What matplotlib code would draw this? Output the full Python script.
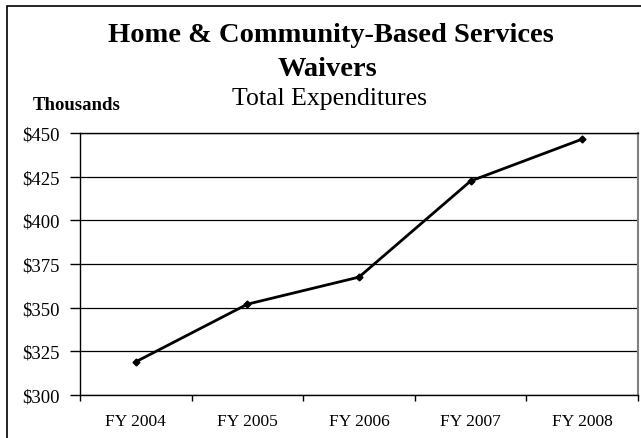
import numpy as np
import matplotlib
matplotlib.use("Agg")
import matplotlib.pyplot as plt
from matplotlib.patches import Rectangle

years = ["FY 2004", "FY 2005", "FY 2006", "FY 2007", "FY 2008"]
spending = [319, 352, 367.5, 422.5, 446.5]   # thousands of dollars
y_ticks = [300, 325, 350, 375, 400, 425, 450]

plt.rcParams['font.family'] = ['Liberation Serif', 'DejaVu Serif']

fig = plt.figure(figsize=(6.41, 4.39), dpi=100)
ax = fig.add_axes([80 / 641, 43 / 439, 558 / 641, 262 / 439])

x = np.arange(len(years))
ax.plot(x, spending, color='black', lw=2, marker='D', ms=3.5, zorder=3)

ax.set_xlim(-0.5, len(years) - 0.5)
ax.set_ylim(y_ticks[0], y_ticks[-1])
ax.set_yticks(y_ticks)
ax.set_yticklabels(["${}".format(v) for v in y_ticks], fontsize=13.5)
ax.set_xticks(x)
ax.set_xticklabels(years, fontsize=12.5)
ax.set_xticks(np.arange(-0.5, len(years)), minor=True)
ax.tick_params(axis='x', which='major', length=0, pad=13)
ax.tick_params(axis='x', which='minor', length=4, direction='out', width=1)
ax.tick_params(axis='y', length=7.5, direction='out', width=1, pad=7)

ax.grid(axis='y', color='black', lw=0.9)
ax.set_axisbelow(True)
for side in ['left', 'bottom', 'top']:
    ax.spines[side].set_color('black')
    ax.spines[side].set_linewidth(1)
ax.spines['right'].set_color('#808080')
ax.spines['right'].set_linewidth(1.5)

# outer chart frame
fig.patches.append(Rectangle((7 / 641, -0.2), 1.2, 1.2 - 7 / 439,
                             transform=fig.transFigure, fill=False,
                             edgecolor='black', lw=1.2))

fig.text(331 / 641, 1 - 35 / 439, "Home & Community-Based Services",
         ha='center', va='center', fontsize=20.5, fontweight='bold')
fig.text(327 / 641, 1 - 70 / 439, "Waivers",
         ha='center', va='center', fontsize=20.5, fontweight='bold')
fig.text(330 / 641, 1 - 99 / 439, "Total Expenditures",
         ha='center', va='center', fontsize=18.5)
fig.text(33 / 641, 1 - 105 / 439, "Thousands",
         ha='left', va='center', fontsize=13.5, fontweight='bold')

fig.savefig("out.png", dpi=100)
